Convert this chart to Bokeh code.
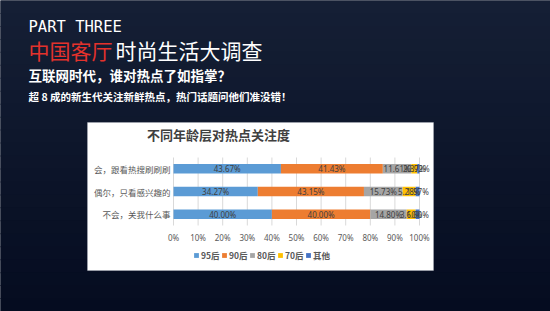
from bokeh.plotting import figure
from bokeh.models import (ColumnDataSource, Range1d, Label, BoxAnnotation,
                          Legend, LegendItem, FixedTicker, PrintfTickFormatter)
from bokeh.core.properties import value
from bokeh.embed import file_html
from bokeh.resources import INLINE

# ---- data ----
categories = ["会，跟看热搜刷刷刷", "偶尔，只看感兴趣的", "不会，关我什么事"]
groups = ["95后", "90后", "80后", "70后", "其他"]
v95 = [43.67, 34.27, 40.00]
v90 = [41.43, 43.15, 40.00]
v80 = [11.61, 15.73, 14.80]
v70 = [2.37, 5.28, 3.60]
v_other = [0.92, 1.57, 1.60]
x_ticks = [0, 10, 20, 30, 40, 50, 60, 70, 80, 90, 100]
colors = ["#5b9bd5", "#ed7d31", "#a5a5a5", "#ffc000", "#4472c4"]
chart_title = "不同年龄层对热点关注度"

series = [v95, v90, v80, v70, v_other]
n = len(categories)
ypos = [n - 1 - i for i in range(n)]  # first category on top
data = {"y": ypos}
for g, s in zip(groups, series):
    data[g] = s
source = ColumnDataSource(data)

CJK = "Noto Sans CJK SC"
W, H = 550, 311
# layout (canvas pixels)
X0, X100 = 173.0, 419.0          # where 0% and 100% sit
Y_TOP_ROW, Y_BOT_ROW = 168.3, 213.7
sx = (X100 - X0) / 100.0
sy = (Y_BOT_ROW - Y_TOP_ROW) / (n - 1)
def px2x(px): return (px - X0) / sx
def px2y(py): return (Y_BOT_ROW - py) / sy

p = figure(width=W, height=H, x_range=Range1d(px2x(0), px2x(W)),
           y_range=Range1d(px2y(H), px2y(0)), output_backend="svg",
           toolbar_location=None, min_border=0)
p.border_fill_color = "#0a1328"
p.background_fill_color = "#0a1328"
p.outline_line_color = None

# background gradient
top_c = (21, 31, 53)
bot_c = (5, 12, 32)
N = 24
for i in range(N):
    t = i / (N - 1)
    c = tuple(int(round(a + (b - a) * t)) for a, b in zip(top_c, bot_c))
    p.add_layout(BoxAnnotation(left=px2x(-1), right=px2x(W + 1),
                               top=px2y(H * i / N - 0.5), bottom=px2y(H * (i + 1) / N + 0.5),
                               fill_color="#%02x%02x%02x" % c, fill_alpha=1, line_color=None,
                               level="image"))

# white card
p.add_layout(BoxAnnotation(left=px2x(87), right=px2x(433), top=px2y(122), bottom=px2y(270),
                           fill_color="white", fill_alpha=1, line_color="#c9ced6", line_width=1,
                           level="image"))

# grid lines only across plot area
p.xgrid.visible = False
p.ygrid.visible = False
p.segment(x0=x_ticks, x1=x_ticks, y0=[px2y(157)] * len(x_ticks), y1=[px2y(225)] * len(x_ticks),
          line_color="#d9d9d9", line_width=1)

renderers = p.hbar_stack(groups, y="y", height=0.42, fill_color=colors, line_color=None,
                         source=source)

# segment labels
xs, ys, txt = [], [], []
for i in range(n):
    left = 0.0
    for s in series:
        xs.append(left + s[i] / 2)
        ys.append(ypos[i])
        txt.append(f"{s[i]:.2f}%")
        left += s[i]
p.text(x=xs, y=ys, text=txt, text_align="center", text_baseline="middle",
       text_font_size="8px", text_color="#404040", text_font=value("Noto Sans"))

# axes (labels pulled into the card)
p.xaxis.ticker = FixedTicker(ticks=x_ticks)
p.xaxis.formatter = PrintfTickFormatter(format="%d%%")
p.yaxis.ticker = FixedTicker(ticks=ypos)
p.yaxis.major_label_overrides = {ypos[i]: categories[i] for i in range(n)}
for ax in (p.xaxis[0], p.yaxis[0]):
    ax.axis_line_color = None
    ax.major_tick_line_color = None
    ax.minor_tick_line_color = None
    ax.major_tick_out = 0
    ax.major_tick_in = 0
    ax.minor_tick_out = 0
    ax.major_label_text_color = "#595959"
p.xaxis.major_label_text_font = "Noto Sans"
p.xaxis.major_label_text_font_size = "8px"
p.xaxis.major_label_standoff = -(H - 231)
p.yaxis.major_label_text_font = CJK
p.yaxis.major_label_text_font_size = "8.5px"
p.yaxis.major_label_standoff = -170

# legend
legend = Legend(items=[LegendItem(label=value(g), renderers=[r]) for g, r in zip(groups, renderers)],
                orientation="horizontal", location=(193, H - 261), margin=0, padding=0,
                spacing=0, glyph_width=6, glyph_height=6, label_standoff=2,
                label_text_font=CJK, label_text_font_size="8.5px",
                label_text_font_style="bold", label_text_color="#595959",
                border_line_color=None, background_fill_alpha=0)
p.add_layout(legend)

# chart title
p.add_layout(Label(x=px2x(218), y=px2y(134), text=chart_title, text_align="center",
                   text_baseline="middle", text_font=CJK, text_font_size="13px",
                   text_font_style="bold", text_color="#404040"))

# headers
p.add_layout(Label(x=px2x(28), y=px2y(26.5), text="PART THREE", text_baseline="middle",
                   text_font="DejaVu Sans Mono", text_font_size="15.5px", text_color="white"))
p.add_layout(Label(x=px2x(28), y=px2y(49.5), text="中国客厅", text_baseline="middle",
                   text_font=CJK, text_font_size="21px", text_color="#e3322c"))
p.add_layout(Label(x=px2x(115), y=px2y(49.5), text="时尚生活大调查", text_baseline="middle",
                   text_font=CJK, text_font_size="21px", text_color="white"))
p.add_layout(Label(x=px2x(28), y=px2y(74), text="互联网时代，谁对热点了如指掌？",
                   text_baseline="middle", text_font=CJK, text_font_size="13.5px",
                   text_font_style="bold", text_color="white"))
p.add_layout(Label(x=px2x(28), y=px2y(96), text="超 8 成的新生代关注新鲜热点，热门话题问他们准没错！",
                   text_baseline="middle", text_font=CJK, text_font_size="10.5px",
                   text_font_style="bold", text_color="white"))

open("out.html", "w").write(file_html(p, INLINE))
